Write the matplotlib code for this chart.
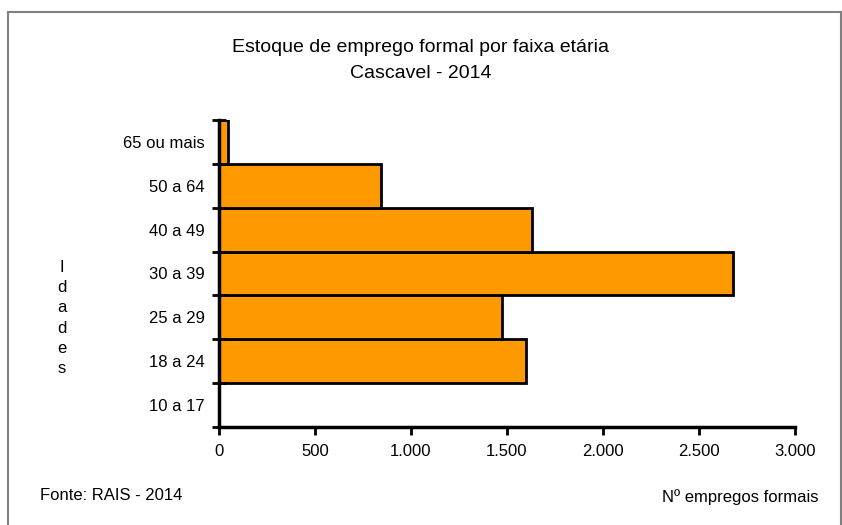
import numpy as np
import matplotlib
matplotlib.use("Agg")
import matplotlib.pyplot as plt
from matplotlib.lines import Line2D
from matplotlib.ticker import FuncFormatter

# data
faixas = ["10 a 17", "18 a 24", "25 a 29", "30 a 39", "40 a 49", "50 a 64", "65 ou mais"]
empregos = [3, 1598, 1472, 2680, 1632, 843, 47]
x_ticks = [0, 500, 1000, 1500, 2000, 2500, 3000]

plt.rcParams['font.family'] = ['Liberation Sans', 'DejaVu Sans']

bar_color = "#FF9900"
text_color = "#000000"

fig = plt.figure(figsize=(8.42, 5.25), dpi=100)
ax = fig.add_axes([0.260, 0.1867, 0.684, 0.5847])

pos = np.arange(len(faixas))
ax.barh(pos, empregos, height=1.0, color=bar_color, edgecolor="black", linewidth=2)

ax.set_xlim(0, 3000)
ax.set_ylim(-0.5, len(faixas) - 0.5)

# x axis
ax.set_xticks(x_ticks)
ax.xaxis.set_major_formatter(FuncFormatter(lambda v, p: f"{int(v):,}".replace(",", ".")))
ax.tick_params(axis='x', direction='out', length=6, width=2, labelsize=12, pad=6)

# y axis: ticks at boundaries, labels centered
ax.set_yticks(np.arange(len(faixas) + 1) - 0.5)
ax.set_yticklabels([])
ax.set_yticks(pos, minor=True)
ax.set_yticklabels(faixas, minor=True)
ax.tick_params(axis='y', which='major', direction='inout', length=10, width=2)
ax.tick_params(axis='y', which='minor', length=0, labelsize=12, pad=10)

for side in ['top', 'right']:
  ax.spines[side].set_visible(False)
for side in ['left', 'bottom']:
  ax.spines[side].set_linewidth(2.5)

# titles and labels
fig.text(0.5, 1 - 48 / 525, "Estoque de emprego formal por faixa etária",
         ha='center', va='center', fontsize=14, color=text_color)
fig.text(0.5, 1 - 74 / 525, "Cascavel - 2014",
         ha='center', va='center', fontsize=14, color=text_color)
fig.text(62 / 842, 1 - 318 / 525, "I\nd\na\nd\ne\ns", ha='center', va='center',
         fontsize=12, linespacing=1.42)
fig.text(40 / 842, 1 - 496 / 525, "Fonte: RAIS - 2014", ha='left', va='center', fontsize=12)
fig.text(818 / 842, 1 - 497 / 525, "Nº empregos formais", ha='right', va='center', fontsize=12)

# outer frame
frame_color = "#808080"
fig.add_artist(Line2D([8 / 842, 8 / 842], [0, 1 - 12 / 525], transform=fig.transFigure,
                      color=frame_color, linewidth=1.5))
fig.add_artist(Line2D([8 / 842, 841 / 842], [1 - 12 / 525, 1 - 12 / 525], transform=fig.transFigure,
                      color=frame_color, linewidth=1.5))
fig.add_artist(Line2D([841 / 842, 841 / 842], [0, 1 - 12 / 525], transform=fig.transFigure,
                      color=frame_color, linewidth=1.5))

fig.savefig("out.png", dpi=100)
